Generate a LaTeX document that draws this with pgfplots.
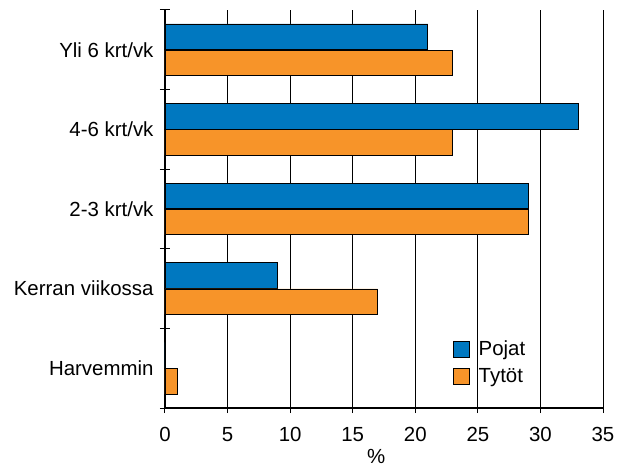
\documentclass[border=0pt]{standalone}
\usepackage{fontspec}
\setmainfont{Liberation Sans}
\usepackage{pgfplots}
\pgfplotsset{compat=1.18}
\definecolor{pojat}{RGB}{0,120,192}
\definecolor{tytot}{RGB}{247,148,41}
\begin{document}
\begin{tikzpicture}
\useasboundingbox (-165bp,-59bp) rectangle (461bp,408bp);
\begin{axis}[
  at={(0,0)}, anchor=south west,
  scale only axis, width=438bp, height=398bp,
  xmin=0, xmax=35, ymin=-0.5, ymax=4.5,
  axis x line*=bottom, axis y line*=left,
  axis line style={line width=1.2bp, black},
  xtick={0,5,...,35},
  ytick={0,...,4},
  yticklabels={Harvemmin,Kerran viikossa,2-3 krt/vk,4-6 krt/vk,Yli 6 krt/vk},
  minor ytick={-0.5,0.5,...,4.5},
  tick align=center,
  major tick length=10bp, minor tick length=10bp,
  major y tick style={draw=none},
  tick style={black, line width=1bp},
  xmajorgrids,
  major grid style={black, line width=0.8bp},
  /pgf/number format/assume math mode=true,
  tick label style={font=\fontsize{20.5}{24}\selectfont},
  xticklabel style={yshift=-11bp},
  yticklabel style={xshift=-3bp},
  label style={font=\fontsize{20.5}{24}\selectfont},
  xlabel={\%},
  xlabel style={at={(ticklabel cs:0.482)}, anchor=near ticklabel, yshift=-1bp},
  legend style={draw=none, fill=none, at={(0.65,0.05)}, anchor=south west,
    row sep=7bp, font=\fontsize{20.5}{24}\selectfont,
    nodes={inner sep=2bp}},
  legend cell align=left,
  legend image code/.code={\draw[#1] (0bp,-8bp) rectangle (16bp,8bp); \path (23bp,0bp);},
]
\addplot[xbar, bar width=0.32, bar shift=0.165, fill=pojat, draw=black, line width=0.8bp]
  coordinates {(0,0) (9,1) (29,2) (33,3) (21,4)};
\addlegendentry{Pojat}
\addplot[xbar, bar width=0.32, bar shift=-0.165, fill=tytot, draw=black, line width=0.8bp]
  coordinates {(1,0) (17,1) (29,2) (23,3) (23,4)};
\addlegendentry{Tytöt}
\end{axis}
\end{tikzpicture}
\end{document}
